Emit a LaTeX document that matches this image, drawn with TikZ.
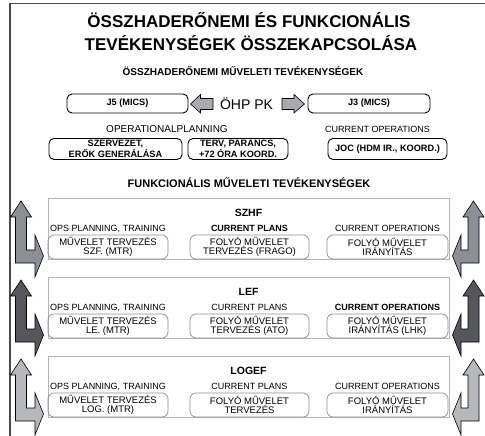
\documentclass[tikz,border=0pt]{standalone}
\usepackage{fontspec}
\setmainfont{Liberation Sans}
\definecolor{frame}{HTML}{4A4A4A}
\definecolor{arrA}{HTML}{8C8F95}
\definecolor{arrB}{HTML}{55575C}
\definecolor{arrC}{HTML}{B6B8BC}
\definecolor{arrM}{HTML}{A8AAAE}
\definecolor{grpline}{HTML}{B4B4B4}
\definecolor{inline}{HTML}{8E8E8E}
\tikzset{
  topbox/.style={draw=black, line width=0.9pt, rounded corners=5pt, align=center, inner sep=0pt,
    font=\fontsize{9.2}{9.2}\selectfont\bfseries},
  grpbox/.style={draw=grpline, line width=0.8pt, inner sep=0pt},
  inbox/.style={draw=inline, line width=0.7pt, rounded corners=6pt, align=center, inner sep=0pt,
    minimum height=24pt, font=\fontsize{9.5}{9.3}\selectfont},
  lbl/.style={anchor=base, inner sep=0pt, font=\fontsize{9}{10}\selectfont},
  blbl/.style={anchor=base, inner sep=0pt, font=\fontsize{9}{10}\selectfont\bfseries},
  gtitle/.style={anchor=base, inner sep=0pt, font=\fontsize{10.5}{12}\selectfont\bfseries},
  sarrow/.style={draw=black, line width=0.6pt, line join=miter},
}
\begin{document}
\begin{tikzpicture}[x=1pt, y=-1pt]
\useasboundingbox (0,0) rectangle (485,436);
% frame
\draw[frame, line width=1.8pt] (10,440) -- (10,3.5) -- (490,3.5);

% titles
\node[anchor=base, inner sep=0pt, font=\fontsize{17}{20}\selectfont\bfseries] (t1) at (249,28) {ÖSSZHADERŐNEMI ÉS FUNKCIONÁLIS};
\node[anchor=base, inner sep=0pt, font=\fontsize{17}{20}\selectfont\bfseries] (t2) at (251,50.5) {TEVÉKENYSÉGEK ÖSSZEKAPCSOLÁSA};
\node[anchor=base, inner sep=0pt, font=\fontsize{10}{11}\selectfont\bfseries] (t3) at (243,75.5) {ÖSSZHADERŐNEMI MŰVELETI TEVÉKENYSÉGEK};

% top row
\node[topbox, minimum width=121pt, minimum height=19pt] (j5) at (127.5,103.5) {J5 (MICS)};
\node[topbox, minimum width=122pt, minimum height=19pt] (j3) at (369,103.5) {J3 (MICS)};
\node[inner sep=0pt, font=\fontsize{14}{16}\selectfont] (ohp) at (246.5,104) {ÖHP PK};
\filldraw[sarrow, fill=arrM] (190.5,104) -- (200.5,94.5) -- (200.5,98.5) -- (213,98.5) -- (213,109.5) -- (200.5,109.5) -- (200.5,113) -- cycle;
\filldraw[sarrow, fill=arrM] (304.5,104) -- (294,94.5) -- (294,98.5) -- (282,98.5) -- (282,109.5) -- (294,109.5) -- (294,113) -- cycle;

\node[anchor=base, inner sep=0pt, font=\fontsize{10}{10}\selectfont] (opl) at (167,132.5) {OPERATIONALPLANNING};
\node[lbl] (cop) at (377.5,132.5) {CURRENT OPERATIONS};

\node[topbox, minimum width=133pt, minimum height=21pt] (k1) at (115.5,149) {SZERVEZET,\\ERŐK GENERÁLÁSA};
\node[topbox, minimum width=100pt, minimum height=21pt] (k2) at (238,149) {TERV, PARANCS,\\+72 ÓRA KOORD.};
\node[topbox, minimum width=119pt, minimum height=21pt] (k3) at (387.5,149) {JOC (HDM IR., KOORD.)};

\node[anchor=base, inner sep=0pt, font=\fontsize{11}{12}\selectfont\bfseries] (t4) at (249,187) {FUNKCIONÁLIS MŰVELETI TEVÉKENYSÉGEK};

% ---------- groups ----------
\newcommand\grouprow[9]{%
\begin{scope}[shift={(0,#1)}]
\node[grpbox, minimum width=401pt, minimum height=61pt] (#2g) at (248.5,30.5) {};
\node[gtitle] (#2t) at (248.5,18) {#3};
\node[lbl] (#2l1) at (108,33) {OPS PLANNING, TRAINING};
\node[#4] (#2l2) at (249.5,33) {CURRENT PLANS};
\node[#5] (#2l3) at (387.5,33) {CURRENT OPERATIONS};
\node[inbox, minimum width=120pt] (#2b1) at (108,49) {#6};
\node[inbox, minimum width=119pt] (#2b2) at (249.5,49) {#7};
\node[inbox, minimum width=121pt] (#2b3) at (387.5,49) {#8};
\filldraw[sarrow, fill=#9] (21,3) -- (31.5,19) -- (26.5,19) -- (26.5,52) -- (35,52) -- (35,37) -- (43.5,58) -- (35,79) -- (35,65) -- (15.5,65) -- (15.5,19) -- (10.5,19) -- cycle;
\filldraw[sarrow, fill=#9] (473.5,3) -- (484,19) -- (479,19) -- (479,65) -- (461,65) -- (461,79) -- (452.5,58) -- (461,37) -- (461,52) -- (468,52) -- (468,19) -- (463,19) -- cycle;
\end{scope}}

\grouprow{198}{s}{SZHF}{blbl}{lbl}{MŰVELET TERVEZÉS\\SZF. (MTR)}{FOLYÓ MŰVELET\\TERVEZÉS (FRAGO)}{FOLYÓ MŰVELET\\IRÁNYÍTÁS}{arrA}
\grouprow{277}{l}{LEF}{lbl}{blbl}{MŰVELET TERVEZÉS\\LE. (MTR)}{FOLYÓ MŰVELET\\TERVEZÉS (ATO)}{FOLYÓ MŰVELET\\IRÁNYÍTÁS (LHK)}{arrB}
\grouprow{356}{g}{LOGEF}{lbl}{lbl}{MŰVELET TERVEZÉS\\LOG. (MTR)}{FOLYÓ MŰVELET\\TERVEZÉS}{FOLYÓ MŰVELET\\IRÁNYÍTÁS}{arrC}
\end{tikzpicture}
\end{document}
